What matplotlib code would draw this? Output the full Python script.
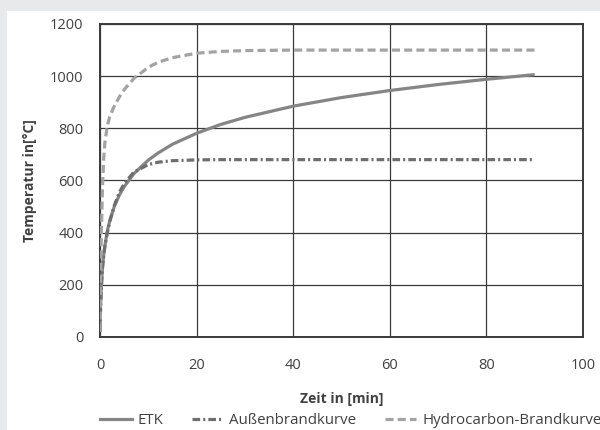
import matplotlib
matplotlib.use("Agg")
import matplotlib.pyplot as plt
from matplotlib.patches import Rectangle
from matplotlib.lines import Line2D

# time in minutes and temperatures
zeit = [0, 0.1, 0.25, 0.5, 0.75, 1, 1.5, 2, 3, 4, 5, 7, 10, 12, 15, 20, 25, 30,
        40, 50, 60, 70, 80, 90]
etk = [20, 108, 185, 261, 312, 349, 404, 445, 502, 544, 576, 626, 678, 705, 739,
       781, 815, 842, 885, 918, 945, 968, 988, 1006]
aussen = [20, 100, 182, 263, 311, 346, 399, 441, 506, 554, 588, 632, 661, 670, 676,
          679, 680, 680, 680, 680, 680, 680, 680, 680]
hydro = [20, 187, 373, 568, 679, 743, 809, 844, 887, 920, 948, 991, 1034, 1053, 1071,
         1088, 1095, 1098, 1100, 1100, 1100, 1100, 1100, 1100]

xticks = [0, 20, 40, 60, 80, 100]
yticks = [0, 200, 400, 600, 800, 1000, 1200]

plt.rcParams['font.family'] = ['Open Sans', 'DejaVu Sans']
plt.rcParams['lines.scale_dashes'] = False

txt = "#404040"
grid = "#3a3a3a"

fig = plt.figure(figsize=(6, 4.3), dpi=100)
fig.patch.set_facecolor("#e8e9ea")
fig.patches.append(Rectangle((7 / 600, 0), 1, 1 - 11 / 430, transform=fig.transFigure,
                             facecolor="white", edgecolor="none", zorder=-5))

ax = fig.add_axes([100 / 600, 1 - 337 / 430, 483 / 600, 313 / 430])
ax.set_facecolor("white")

l1, = ax.plot(zeit, etk, color="#858585", lw=2.3, solid_capstyle="butt", zorder=3)
l2, = ax.plot(zeit, aussen, color="#6e6e6e", lw=2.3, zorder=3)
l2.set_dashes([5.5, 2.2, 1.5, 2.2])
l3, = ax.plot(zeit, hydro, color="#a3a3a3", lw=2.3, zorder=3)
l3.set_dashes([5.8, 3])

ax.set_xlim(0, 100)
ax.set_ylim(0, 1200)
ax.set_xticks(xticks)
ax.set_yticks(yticks)
ax.grid(True, color=grid, lw=0.9)
ax.set_axisbelow(True)
for s in ax.spines.values():
    s.set_color(grid)
    s.set_linewidth(1.4)
ax.tick_params(length=0, labelsize=10.5, labelcolor=txt)
ax.tick_params(axis='x', pad=15)
ax.tick_params(axis='y', pad=12)

ax.set_xlabel("Zeit in [min]", fontsize=10, fontweight="bold", color=txt)
ax.set_ylabel("Temperatur in[°C]", fontsize=10, fontweight="bold", color=txt)
ax.xaxis.set_label_coords(0.5, (337 - 392) / 313)
ax.yaxis.set_label_coords((37 - 100) / 483, 0.5)

h1 = Line2D([], [], color="#858585", lw=2.3)
h2 = Line2D([], [], color="#6e6e6e", lw=2.3, dashes=[5.5, 2.2, 1.5, 2.2])
h3 = Line2D([], [], color="#a3a3a3", lw=2.3, dashes=[5.8, 3])
leg = fig.legend([h1, h2, h3], ["ETK", "Außenbrandkurve", "Hydrocarbon-Brandkurve"],
                 loc="center left", bbox_to_anchor=(100 / 600, 1 - 421 / 430), ncol=3,
                 frameon=False, fontsize=10.8, handlelength=2.1, handletextpad=0.4,
                 columnspacing=1.9, borderaxespad=0, borderpad=0)
for t in leg.get_texts():
    t.set_color(txt)

fig.savefig("out.png", dpi=100, facecolor=fig.get_facecolor())
